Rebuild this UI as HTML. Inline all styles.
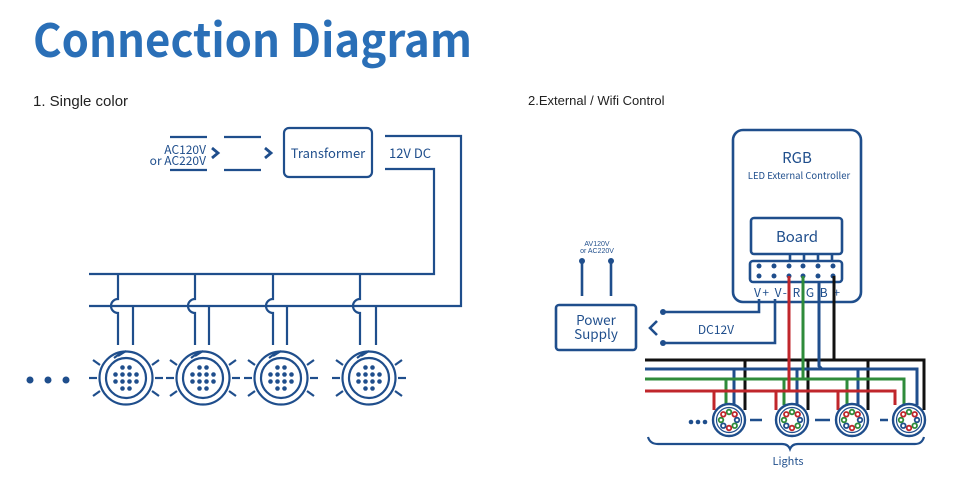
<!DOCTYPE html>
<html><head><meta charset="utf-8"><style>
html,body{margin:0;padding:0;background:#fff}
svg{display:block}
text{font-family:"Liberation Sans",sans-serif}
.n{font-family:"Noto Sans CJK SC","Liberation Sans",sans-serif}
</style></head><body>
<svg width="965" height="484" viewBox="0 0 965 484" xmlns="http://www.w3.org/2000/svg">
<defs>
<g id="lamp" fill="none" stroke="#1f4e8c" stroke-width="2.2">
<circle r="26.5"/><circle r="20"/>
<line x1="-12" y1="-20" x2="-4" y2="-26"/><line x1="-8" y1="-22" x2="0" y2="-27"/>
<line x1="-37" y1="0" x2="-29" y2="0"/><line x1="29" y1="0" x2="37" y2="0"/>
<line x1="-33" y1="-18" x2="-26" y2="-13"/><line x1="33" y1="-18" x2="26" y2="-13"/>
<line x1="-33" y1="18" x2="-26" y2="13"/><line x1="33" y1="18" x2="26" y2="13"/>
<g fill="#1f4e8c" stroke="none">
<circle cx="-3.5" cy="-10.5" r="2.3"/><circle cx="3.5" cy="-10.5" r="2.3"/>
<circle cx="-10.5" cy="-3.5" r="2.3"/><circle cx="-3.5" cy="-3.5" r="2.3"/><circle cx="3.5" cy="-3.5" r="2.3"/><circle cx="10.5" cy="-3.5" r="2.3"/>
<circle cx="-10.5" cy="3.5" r="2.3"/><circle cx="-3.5" cy="3.5" r="2.3"/><circle cx="3.5" cy="3.5" r="2.3"/><circle cx="10.5" cy="3.5" r="2.3"/>
<circle cx="-3.5" cy="10.5" r="2.3"/><circle cx="3.5" cy="10.5" r="2.3"/>
</g></g>
<g id="rgbl" fill="none" stroke-width="1.8">
<circle r="16" stroke="#1f4e8c" stroke-width="2.4"/><circle r="12.5" stroke="#1f4e8c" stroke-width="1.2"/>
<circle cx="0" cy="-8" r="2.3" stroke="#2e8b3a"/><circle cx="5.7" cy="-5.7" r="2.3" stroke="#c0262b"/>
<circle cx="8" cy="0" r="2.3" stroke="#1f4e8c"/><circle cx="5.7" cy="5.7" r="2.3" stroke="#2e8b3a"/>
<circle cx="0" cy="8" r="2.3" stroke="#c0262b"/><circle cx="-5.7" cy="5.7" r="2.3" stroke="#1f4e8c"/>
<circle cx="-8" cy="0" r="2.3" stroke="#2e8b3a"/><circle cx="-5.7" cy="-5.7" r="2.3" stroke="#c0262b"/>
</g>
</defs>

<text class="n" x="33" y="57" font-size="46" font-weight="bold" fill="#2a6fb7" textLength="439" lengthAdjust="spacingAndGlyphs">Connection Diagram</text>
<text x="33" y="106" font-size="15" fill="#222">1. Single color</text>
<text x="528" y="105" font-size="13" fill="#222">2.External / Wifi Control</text>

<!-- LEFT -->
<g stroke="#1f4e8c" stroke-width="2.2" fill="none">
<line x1="170" y1="137" x2="207" y2="137"/><line x1="170" y1="170" x2="207" y2="170"/>
<line x1="224" y1="137" x2="261" y2="137"/><line x1="224" y1="170" x2="261" y2="170"/>
<polyline points="212,148 218,153 212,158" stroke-width="2.8"/><polyline points="265,148 271,153 265,158" stroke-width="2.8"/>
<rect x="284" y="128" width="88" height="49" rx="5"/>
<polyline points="385,136 461,136 461,306 89,306"/>
<polyline points="385,169 434,169 434,274 89,274"/>
<path d="M118 274 V299 A7 7 0 0 0 118 313 V345 M133 306 V345"/>
<path d="M195 274 V299 A7 7 0 0 0 195 313 V345 M209 306 V345"/>
<path d="M273 274 V299 A7 7 0 0 0 273 313 V345 M287 306 V345"/>
<path d="M360 274 V299 A7 7 0 0 0 360 313 V345 M376 306 V345"/>
</g>
<text class="n" x="206" y="154" font-size="12" fill="#1f4e8c" text-anchor="end">AC120V</text>
<text class="n" x="206" y="165" font-size="12" fill="#1f4e8c" text-anchor="end">or AC220V</text>
<text class="n" x="328" y="158" font-size="13" fill="#1f4e8c" text-anchor="middle">Transformer</text>
<text class="n" x="389" y="158" font-size="13" fill="#1f4e8c">12V DC</text>
<use href="#lamp" x="126" y="378"/><use href="#lamp" x="203" y="378"/><use href="#lamp" x="281" y="378"/><use href="#lamp" x="369" y="378"/>
<g fill="#1f4e8c"><circle cx="30" cy="380" r="3.5"/><circle cx="48" cy="380" r="3.5"/><circle cx="66" cy="380" r="3.5"/></g>

<!-- RIGHT -->
<g stroke="#1f4e8c" stroke-width="2.6" fill="none">
<rect x="733" y="130" width="128" height="172" rx="10"/>
<rect x="751" y="218" width="91" height="36" rx="3"/>
<rect x="750" y="261" width="92" height="21" rx="3"/>
<rect x="556" y="305" width="80" height="45" rx="3"/>
<polyline points="657,321 650,328 657,335"/>
<line x1="582" y1="261" x2="582" y2="296"/><line x1="611" y1="261" x2="611" y2="296"/>
<polyline points="759,299 759,312 663,312"/>
<polyline points="775,299 775,343 663,343"/>
<line x1="790" y1="255" x2="790" y2="261"/><line x1="804" y1="255" x2="804" y2="261"/><line x1="818" y1="255" x2="818" y2="261"/><line x1="832" y1="255" x2="832" y2="261"/>
</g>
<g fill="#1f4e8c">
<circle cx="582" cy="261" r="3"/><circle cx="611" cy="261" r="3"/><circle cx="663" cy="312" r="3"/><circle cx="663" cy="343" r="3"/>
<circle cx="759" cy="266" r="2.5"/><circle cx="774" cy="266" r="2.5"/><circle cx="789" cy="266" r="2.5"/><circle cx="803" cy="266" r="2.5"/><circle cx="818" cy="266" r="2.5"/><circle cx="833" cy="266" r="2.5"/>
<circle cx="759" cy="276" r="2.5"/><circle cx="774" cy="276" r="2.5"/><circle cx="789" cy="276" r="2.5"/><circle cx="803" cy="276" r="2.5"/><circle cx="818" cy="276" r="2.5"/><circle cx="833" cy="276" r="2.5"/>
</g>
<text class="n" x="797" y="163" font-size="15" fill="#1f4e8c" text-anchor="middle">RGB</text>
<text class="n" x="799" y="179" font-size="9.5" fill="#1f4e8c" text-anchor="middle">LED External Controller</text>
<text class="n" x="797" y="242" font-size="15" fill="#1f4e8c" text-anchor="middle">Board</text>
<text class="n" x="797" y="297" font-size="12" fill="#1f4e8c" text-anchor="middle" textLength="86" lengthAdjust="spacing">V+ V- R G B +</text>
<text class="n" x="596" y="325" font-size="13.5" fill="#1f4e8c" text-anchor="middle">Power</text>
<text class="n" x="596" y="339" font-size="13.5" fill="#1f4e8c" text-anchor="middle">Supply</text>
<text class="n" x="716" y="334" font-size="12" fill="#1f4e8c" text-anchor="middle">DC12V</text>
<text x="597" y="246" font-size="7" fill="#1f4e8c" text-anchor="middle">AV120V</text>
<text x="597" y="253" font-size="7" fill="#1f4e8c" text-anchor="middle">or AC220V</text>

<!-- bus wires -->
<g fill="none" stroke-width="3">
<polyline stroke="#111" points="645,360 924,360 924,410"/>
<polyline stroke="#111" points="834,276 834,360"/>
<line stroke="#111" x1="745" y1="360" x2="745" y2="410"/><line stroke="#111" x1="808" y1="360" x2="808" y2="410"/><line stroke="#111" x1="868" y1="360" x2="868" y2="410"/>
<polyline stroke="#1f4e8c" points="645,369 917,369 917,405"/>
<polyline stroke="#1f4e8c" points="819,283 819,366 822,369"/>
<line stroke="#1f4e8c" x1="734" y1="369" x2="734" y2="405"/><line stroke="#1f4e8c" x1="797" y1="369" x2="797" y2="405"/><line stroke="#1f4e8c" x1="858" y1="369" x2="858" y2="405"/>
<polyline stroke="#2e8b3a" points="645,379 904,379 904,405"/>
<line stroke="#2e8b3a" x1="803" y1="276" x2="803" y2="379"/>
<line stroke="#2e8b3a" x1="726" y1="379" x2="726" y2="405"/><line stroke="#2e8b3a" x1="784" y1="379" x2="784" y2="405"/><line stroke="#2e8b3a" x1="847" y1="379" x2="847" y2="405"/>
<polyline stroke="#c0262b" points="645,391 895,391 895,405"/>
<line stroke="#c0262b" x1="789" y1="276" x2="789" y2="391"/>
<line stroke="#c0262b" x1="714" y1="391" x2="714" y2="410"/><line stroke="#c0262b" x1="776" y1="391" x2="776" y2="410"/><line stroke="#c0262b" x1="838" y1="391" x2="838" y2="410"/>
</g>
<g stroke="#1f4e8c" stroke-width="2.5">
<line x1="750" y1="420" x2="762" y2="420"/><line x1="815" y1="420" x2="830" y2="420"/><line x1="880" y1="420" x2="888" y2="420"/>
</g>
<use href="#rgbl" x="729" y="420"/><use href="#rgbl" x="792" y="420"/><use href="#rgbl" x="852" y="420"/><use href="#rgbl" x="909" y="420"/>
<g fill="#1f4e8c"><circle cx="691" cy="422" r="2.3"/><circle cx="698" cy="422" r="2.3"/><circle cx="705" cy="422" r="2.3"/></g>
<path d="M648 437 Q650 444 658 444 L782 444 Q788 444 790 449 Q792 444 798 444 L915 444 Q922 444 924 437" fill="none" stroke="#1f4e8c" stroke-width="2.2"/>
<text class="n" x="788" y="465" font-size="11" fill="#1f4e8c" text-anchor="middle">Lights</text>
</svg>
</body></html>
